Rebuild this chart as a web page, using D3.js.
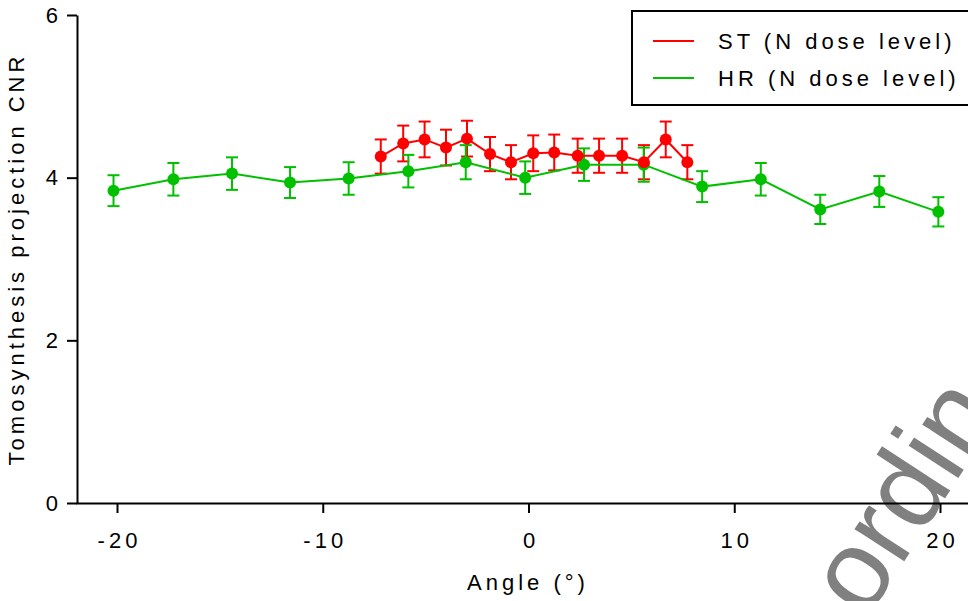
<!DOCTYPE html>
<html>
<head>
<meta charset="utf-8">
<script src="https://cdn.jsdelivr.net/npm/d3@7"></script>
<style>
  html, body { margin: 0; padding: 0; background: #fff; }
  svg { display: block; }
  text { font-family: "Liberation Sans", Arial, sans-serif; }
</style>
</head>
<body>
<svg id="chart" width="968" height="601"></svg>
<script>
// ---- data ----
const hrAngles = [-20.17, -17.26, -14.41, -11.59, -8.74, -5.84, -3.05, -0.16, 2.70, 5.60, 8.44, 11.29, 14.18, 17.05, 19.92];
const hrCNR    = [3.84, 3.98, 4.05, 3.94, 3.99, 4.08, 4.19, 4.00, 4.16, 4.16, 3.89, 3.98, 3.61, 3.83, 3.58];
const hrErr    = [0.19, 0.20, 0.20, 0.19, 0.20, 0.20, 0.21, 0.20, 0.20, 0.21, 0.19, 0.20, 0.18, 0.19, 0.18];

const stAngles = [-7.18, -6.09, -5.05, -4.01, -2.99, -1.87, -0.85, 0.23, 1.25, 2.39, 3.43, 4.55, 5.61, 6.67, 7.72];
const stCNR    = [4.26, 4.42, 4.47, 4.37, 4.48, 4.29, 4.19, 4.30, 4.31, 4.27, 4.27, 4.27, 4.19, 4.47, 4.19];
const stErr    = [0.21, 0.22, 0.22, 0.22, 0.22, 0.21, 0.21, 0.22, 0.22, 0.21, 0.21, 0.21, 0.21, 0.22, 0.21];

const xTicks = [-20, -10, 0, 10, 20];
const yTicks = [0, 2, 4, 6];
const seriesNames = ["ST (N dose level)", "HR (N dose level)"];
const seriesColors = ["#ff0000", "#00c000"];
const xLabel = "Angle (°)";
const yLabel = "Tomosynthesis projection CNR";
const watermark = "ordin";

// ---- build ----
const svg = d3.select("#chart");
const x = d3.scaleLinear().domain([-22, 22]).range([75.85, 981.15]);
const y = d3.scaleLinear().domain([0, 6]).range([503, 15]);

// watermark (behind)
svg.append("text")
  .attr("transform", "translate(866,620) rotate(-57)")
  .attr("font-size", 112)
  .attr("fill", "#808080")
  .text(watermark);

const makeSeries = (angles, vals, errs) => angles.map((a, i) => ({x: a, y: vals[i], e: errs[i]}));
const st = makeSeries(stAngles, stCNR, stErr);
const hr = makeSeries(hrAngles, hrCNR, hrErr);

// axes
const yAxis = svg.append("g")
  .attr("transform", "translate(77,0)")
  .call(d3.axisLeft(y).tickValues(yTicks).tickSize(10).tickSizeOuter(0).tickPadding(9).tickFormat(d3.format("d")));
yAxis.selectAll("path, line").attr("stroke", "#000").attr("stroke-width", 2);
yAxis.selectAll("text").attr("font-size", 22).attr("fill", "#000").attr("font-family", "Liberation Sans, Arial, sans-serif");

const xAxis = svg.append("g")
  .attr("transform", "translate(0,503)")
  .call(d3.axisBottom(x).tickValues(xTicks).tickSize(10).tickSizeOuter(0).tickFormat(d3.format("d")));
xAxis.selectAll("path, line").attr("stroke", "#000").attr("stroke-width", 2);
xAxis.selectAll("text")
  .attr("font-size", 22).attr("fill", "#000")
  .attr("font-family", "Liberation Sans, Arial, sans-serif")
  .attr("letter-spacing", 4)
  .attr("dy", null).attr("y", 45).attr("dx", 2)
  .text(d => d < 0 ? "-" + Math.abs(d) : d);

// axis titles
svg.append("text")
  .attr("x", 528).attr("y", 590)
  .attr("text-anchor", "middle")
  .attr("font-size", 22).attr("letter-spacing", 4)
  .text(xLabel);
svg.append("text")
  .attr("transform", "translate(24,259) rotate(-90)")
  .attr("text-anchor", "middle")
  .attr("font-size", 22).attr("letter-spacing", 4)
  .text(yLabel);

// error bars
function drawErr(data, color) {
  const g = svg.append("g").attr("stroke", color).attr("stroke-width", 2);
  g.selectAll("line.v").data(data).join("line").attr("class", "v")
    .attr("x1", d => x(d.x)).attr("x2", d => x(d.x))
    .attr("y1", d => y(d.y - d.e)).attr("y2", d => y(d.y + d.e));
  g.selectAll("line.t").data(data).join("line").attr("class", "t")
    .attr("x1", d => x(d.x) - 6).attr("x2", d => x(d.x) + 6)
    .attr("y1", d => y(d.y + d.e)).attr("y2", d => y(d.y + d.e));
  g.selectAll("line.b").data(data).join("line").attr("class", "b")
    .attr("x1", d => x(d.x) - 6).attr("x2", d => x(d.x) + 6)
    .attr("y1", d => y(d.y - d.e)).attr("y2", d => y(d.y - d.e));
}
drawErr(st, seriesColors[0]);
drawErr(hr, seriesColors[1]);

const line = d3.line().x(d => x(d.x)).y(d => y(d.y));
svg.append("path").datum(hr).attr("d", line).attr("fill", "none").attr("stroke", seriesColors[1]).attr("stroke-width", 2);
svg.append("path").datum(st).attr("d", line).attr("fill", "none").attr("stroke", seriesColors[0]).attr("stroke-width", 2);

svg.append("g").selectAll("circle").data(hr).join("circle")
  .attr("cx", d => x(d.x)).attr("cy", d => y(d.y)).attr("r", 6).attr("fill", seriesColors[1]);
svg.append("g").selectAll("circle").data(st).join("circle")
  .attr("cx", d => x(d.x)).attr("cy", d => y(d.y)).attr("r", 6).attr("fill", seriesColors[0]);

// legend
const lg = svg.append("g");
lg.append("rect").attr("x", 632).attr("y", 11).attr("width", 400).attr("height", 94)
  .attr("fill", "#fff").attr("stroke", "#000").attr("stroke-width", 2);
const legendY = [41, 78];
seriesNames.forEach((name, i) => {
  lg.append("line").attr("x1", 653).attr("x2", 694).attr("y1", legendY[i]).attr("y2", legendY[i])
    .attr("stroke", seriesColors[i]).attr("stroke-width", 2);
  lg.append("text").attr("x", 718).attr("y", legendY[i] + 8)
    .attr("font-size", 22).attr("letter-spacing", 4).attr("fill", "#000")
    .text(name);
});
</script>
</body>
</html>
